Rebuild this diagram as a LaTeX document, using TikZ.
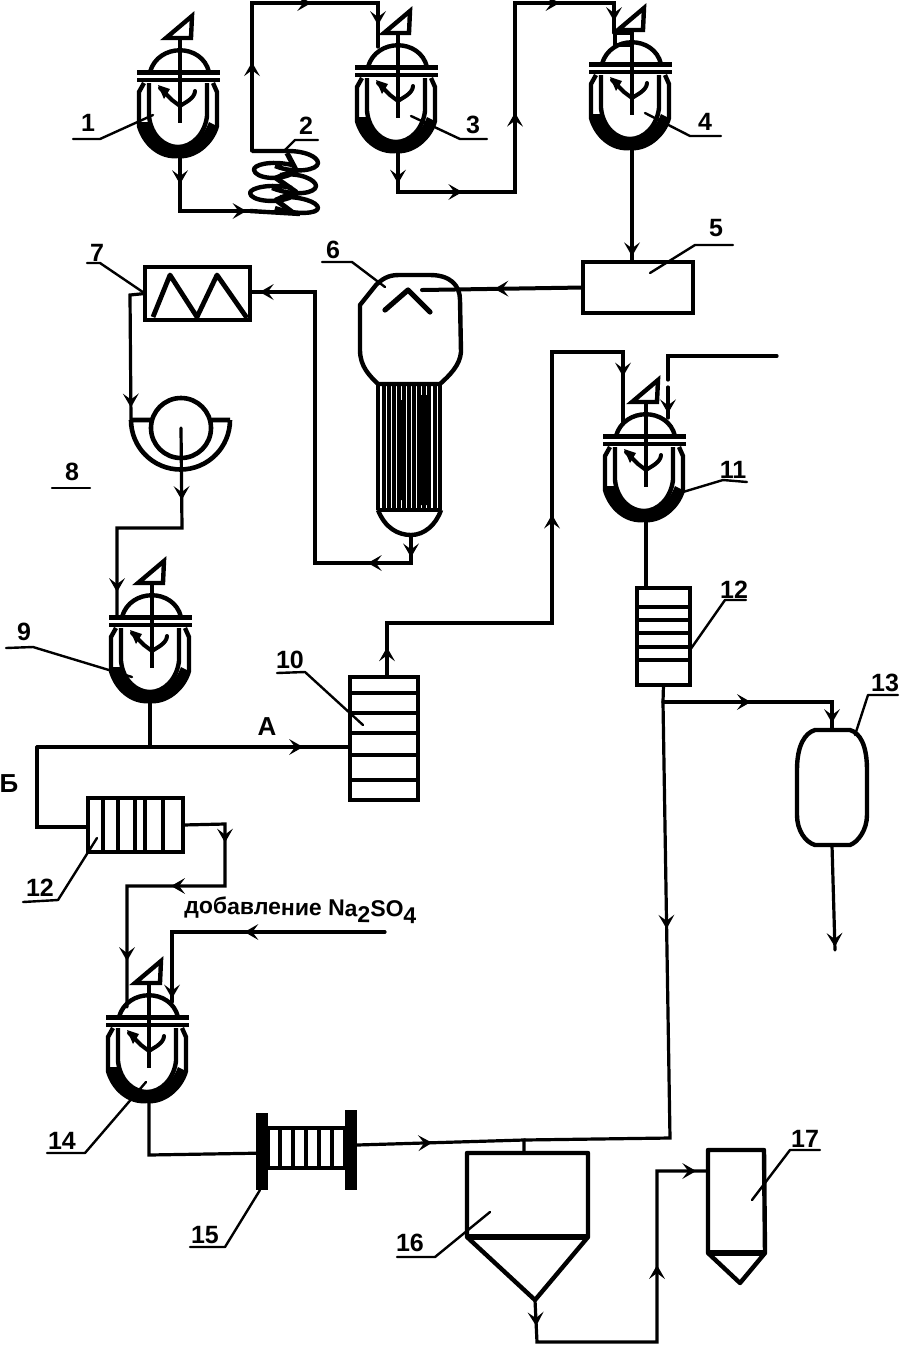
\documentclass[tikz,border=0pt]{standalone}
\usepackage{fontspec}
\setmainfont{Liberation Sans}
\usetikzlibrary{arrows.meta,calc}
\tikzset{
  x=0.5pt,y=-0.5pt,
  flow/.style={line width=1.6pt,line join=miter,line cap=round},
  leader/.style={line width=1.2pt,line cap=round,line join=round},
  heavy/.style={line width=2.2pt,line join=round},
  equip/.style={draw,line width=2.2pt,inner sep=0pt,outer sep=0pt},
  lab/.style={font=\bfseries\fontsize{12.5}{12.5}\selectfont,inner sep=0pt},
  ar/.style={pos=#1,sloped,allow upside down},
  pics/barb/.style={code={\fill (-14,-8) -- (0,0) -- (-14,8) -- (-8,0) -- cycle;}},
  pics/reactor/.style={code={
    \coordinate (-bot) at (0,79);
    \coordinate (-j) at (-41,40);
    \coordinate (-jr) at (37,40);
    \coordinate (-jl) at (37,52);
    \coordinate (-tl) at (-27,39);
    \coordinate (-tr) at (13,45);
    \coordinate (-tb) at (-3,61);
    \draw[line width=2.2pt,line join=miter] (-14,-38) -- (12,-60) -- (11,-38) -- cycle;
    \draw[line width=2.2pt] (0,-38) -- (0,47);
    \draw[line width=2.2pt] (-30,-4) .. controls (-22,-33) and (22,-33) .. (29,-4);
    \draw[line width=2.6pt] (-43,-3.5) -- (40,-3.5);
    \draw[line width=2pt] (-43,4) -- (40,4);
    \draw[line width=2pt,line cap=round,line join=round] (-20,12) -- (-8,24) -- (0,30) -- (8,25) .. controls (12,22) and (15,19) .. (15,15);
    \fill (-22,9) -- (-10,13) -- (-16,23) -- cycle;
    \draw[line width=2.2pt] (-31,7) -- (-31,40) .. controls (-29,60) and (-15,71) .. (-2,71) .. controls (12,71) and (25,58) .. (27,40) -- (27,7);
    \draw[line width=2.2pt,line join=round] (-36,7) -- (-41,16) -- (-41,50) .. controls (-36,68) and (-20,82) .. (-2,80) .. controls (14,82) and (32,68) .. (37,50) -- (37,16) -- (33,7);
    \fill (-41,46) .. controls (-38,66) and (-20,80) .. (-2,80) .. controls (14,80) and (32,66) .. (37,50) -- (29,46) .. controls (24,60) and (12,71) .. (-2,71) .. controls (-15,71) and (-27,60) .. (-31,46) -- cycle;
  }},
}
\begin{document}
\begin{tikzpicture}
\useasboundingbox (0,0) rectangle (904,1346);
% ---------- reactors
\pic (r1) at (180,76) {reactor};
\pic (r3) at (398,71) {reactor};
\pic (r4) at (632,68) {reactor};
\pic (r9) at (152,621) {reactor};
\pic (r11) at (646,440) {reactor};
\pic (r14) at (149,1021) {reactor};
\draw[line width=1.8pt] (613,33) -- (632,33) (615,33) -- (615,44) (613,45) -- (630,45);
% ---------- boxes
\node[equip,minimum width=55pt,minimum height=25.5pt] (b5) at (638,287.5) {};
\node[equip,minimum width=52.5pt,minimum height=26.5pt] (b7) at (197.5,293.5) {};
\node[equip,minimum width=34pt,minimum height=61.5pt] (b10) at (384,738.5) {};
\node[equip,minimum width=26.5pt,minimum height=48.5pt] (b12a) at (663.5,636.5) {};
\node[equip,minimum width=47.5pt,minimum height=27pt] (b12b) at (135.5,825) {};
\node[equip,minimum width=38.5pt,minimum height=20pt] (b15) at (306.5,1148) {};
% box interiors
\draw[line width=2.4pt,line join=round] (153,317) -- (170,275) -- (197,317) -- (217,275) -- (247,318);
\foreach \yy in {693,713,733,755,780} \draw[heavy] (b10.west |- 0,\yy) -- (b10.east |- 0,\yy);
\foreach \yy in {607,620,633,647,660} \draw[heavy] (b12a.west |- 0,\yy) -- (b12a.east |- 0,\yy);
\foreach \xx in {103,118,135,145,163} \draw[line width=1.8pt] (\xx,0 |- b12b.north) -- (\xx,0 |- b12b.south);
\foreach \xx in {280,293,306,319,332} \draw[line width=1.6pt] (\xx,0 |- b15.north) -- (\xx,0 |- b15.south);
\fill (256,1113) rectangle (268,1190);
\fill (345,1110) rectangle (357,1190);
% ---------- coil 2
\coordinate (c2a) at (250,211);
\coordinate (c2b) at (252,151);
\draw[line width=2.2pt,line join=round]
  (252,151) -- (282,151) .. controls (305,150) and (318,157) .. (318,163) .. controls (318,170) and (295,174) .. (275,166)
  (292,165) .. controls (270,160) and (253,165) .. (254,170) .. controls (255,178) and (280,182) .. (295,172)
  (280,175) .. controls (300,172) and (316,180) .. (316,186) .. controls (316,193) and (295,197) .. (272,188)
  (292,188) .. controls (270,183) and (250,188) .. (250,193) .. controls (250,201) and (280,205) .. (295,195)
  (280,197) .. controls (300,196) and (318,202) .. (318,208) .. controls (318,214) and (295,215) .. (275,208)
  (250,211) -- (300,214);
\draw[line width=2.6pt,line join=round] (287,153) -- (296,170) -- (276,178) -- (296,192) -- (276,200) -- (292,212);
% ---------- vessel 6
\coordinate (v6in) at (422,290);
\coordinate (v6out) at (411,535);
\coordinate (v6tag) at (385,287);
\draw[heavy] (360,305) -- (376,285) .. controls (385,276) and (392,275) .. (400,275) -- (430,275) .. controls (450,275) and (460,285) .. (460,300) -- (461,352) .. controls (460,365) and (450,375) .. (440,384) -- (378,384) .. controls (370,376) and (360,367) .. (360,350) -- cycle;
\draw[line width=2.6pt,line cap=round,line join=round] (385,310) -- (408,290) -- (430,312);
\draw[heavy] (378,384) -- (378,510) (440,384) -- (440,510) (378,510) -- (440,510);
\foreach \xx in {384,389,394,399,404,409,414,419,424,429,435} \draw[line width=1.9pt] (\xx,386) -- (\xx,508);
\fill (398,400) rectangle (403,500) (421,395) rectangle (428,505);
\draw[heavy] (378,510) .. controls (385,528) and (398,535) .. (411,535) .. controls (424,535) and (436,525) .. (441,510);
% ---------- filter 8
\coordinate (f8c) at (181,428);
\coordinate (f8in) at (131,420);
\draw[line width=2.3pt] (f8c) circle (30);
\draw[line width=2.3pt] (f8in) -- (152,420) (212,420) -- (230,420) (f8in) arc[start angle=180,end angle=0,radius=49.5];
% ---------- vessels 13, 16, 17
\coordinate (v13in) at (832,730);
\coordinate (v13out) at (832,845);
\coordinate (v13end) at (835,950);
\coordinate (v13tag) at (855,735);
\draw[heavy] (797,770) .. controls (797,745) and (805,733) .. (815,730) -- (850,730) .. controls (860,733) and (867,745) .. (867,770) -- (867,815) .. controls (867,830) and (858,842) .. (850,845) -- (815,845) .. controls (805,842) and (797,830) .. (797,815) -- cycle;
\coordinate (v16in) at (524,1153);
\coordinate (v16out) at (535,1300);
\coordinate (v16tag) at (490,1212);
\draw[heavy] (467,1153) -- (588,1153) -- (588,1237) -- (535,1300) -- (467,1237) -- cycle;
\draw[line width=2.6pt] (467,1237) -- (588,1237);
\coordinate (v17in) at (706,1171);
\coordinate (v17tag) at (752,1200);
\draw[heavy] (708,1150) -- (764,1150) -- (765,1253) -- (740,1283) -- (708,1253) -- cycle;
\draw[line width=2.6pt] (708,1253) -- (765,1253);
% ---------- inlets and junctions
\coordinate (r3in) at (378,47);
\coordinate (r4in) at (614,33);
\coordinate (r9in) at (117,617);
\coordinate (r11in) at (623,422);
\coordinate (r11dash) at (668,380);
\coordinate (r11ex) at (668,418);
\coordinate (r14in) at (127,1007);
\coordinate (r14ex) at (172,1002);
\coordinate (jA) at (150,747);
\coordinate (jB) at (663,702);
\coordinate (jC) at (524,1140);
\coordinate (feed11) at (777,356);
\coordinate (feedNa) at (385,932);
\coordinate (r9tag) at (132,677);
\coordinate (f15tag) at (260,1190);
\coordinate (c2tag) at (285,150);
% ---------- connectors
\draw[flow] (r1-bot) -- (180,211) pic[ar=.52]{barb} -- (c2a) pic[ar=.95]{barb};
\draw[flow] (c2b) -- (252,3) pic[ar=.6]{barb} -- (378,3) pic[ar=.47]{barb} -- (r3in) pic[ar=.5]{barb};
\draw[flow] (r3-bot) -- (398,192) pic[ar=.8]{barb} -- (515,192) pic[ar=.55]{barb} -- (515,3) pic[ar=.42]{barb} -- (614,3) pic[ar=.45]{barb} -- (r4in) pic[ar=.6]{barb};
\draw[flow] (r4-bot) -- (b5.north -| r4-bot) pic[ar=.95]{barb};
\draw[flow,line width=2pt] (b5.west) -- (v6in) pic[ar=.55]{barb};
\draw[flow] (v6out) -- (411,563) pic[ar=.8]{barb} -- (315,563) pic[ar=.45]{barb} -- (315,292) -- (b7.east |- 0,292) pic[ar=.85]{barb};
\draw[flow] (b7.west) -- (130,295) -- (f8in) pic[ar=.9]{barb};
\draw[flow] (f8c) -- (182,528) pic[ar=.72]{barb} -- (117,528) -- (r9in) pic[ar=.72]{barb};
\draw[flow] (r9-bot -| jA) -- (jA);
\draw[flow] (37,747) -- (b10.west |- jA) pic[ar=.85]{barb};
\draw[flow] (37,747) -- (37,827) -- (b12b.west |- 0,827);
\draw[flow] (b10.north -| 387,0) -- (387,623) pic[ar=.55]{barb} -- (552,623) -- (552,352) pic[ar=.4]{barb} -- (623,352) -- (r11in) pic[ar=.35]{barb};
\draw[flow] (feed11) -- (668,356) -- (r11dash);
\draw[flow] (668,387) -- (r11ex) pic[ar=.85]{barb};
\draw[flow] (r11-bot) -- (b12a.north -| r11-bot);
\draw[flow] (b12a.south) -- (jB) -- (670,1138) pic[ar=.52]{barb} -- (jC);
\draw[flow] (jB) -- (832,702) pic[ar=.52]{barb} -- (v13in) pic[ar=.75]{barb};
\draw[flow] (v13out) -- (v13end) pic[ar=.97]{barb};
\draw[flow] (b12b.east) -- (225,824) -- (225,886) pic[ar=.3]{barb} -- (127,886) pic[ar=.55]{barb} -- (r14in) pic[ar=.62]{barb};
\draw[flow] (feedNa) -- (172,932) pic[ar=.66]{barb} -- (r14ex) pic[ar=.95]{barb};
\draw[flow] (r14-bot) -- (149,1155) -- (b15.west |- 0,1153);
\draw[flow] (357,1145) -- (jC) pic[ar=.45]{barb} -- (v16in);
\draw[flow] (v16out) -- (537,1342) pic[ar=.62]{barb} -- (657,1342) -- (657,1171) pic[ar=.45]{barb} -- (v17in) pic[ar=.8]{barb};
% ---------- labels and leaders
\node[lab] (l1) at (88,123) {1};
\node[lab] (l2) at (306,126) {2};
\node[lab] (l3) at (473,125) {3};
\node[lab] (l4) at (705,122) {4};
\node[lab] (l5) at (716,228) {5};
\node[lab] (l6) at (333,250) {6};
\node[lab] (l7) at (97,253) {7};
\node[lab] (l8) at (72,472) {8};
\node[lab] (l9) at (24,632) {9};
\node[lab] (l10) at (290,660) {10};
\node[lab] (l11) at (733,470) {11};
\node[lab] (l12a) at (734,590) {12};
\node[lab] (l13) at (885,683) {13};
\node[lab] (l12b) at (40,888) {12};
\node[lab] (l14) at (62,1141) {14};
\node[lab] (l15) at (205,1235) {15};
\node[lab] (l16) at (410,1243) {16};
\node[lab] (l17) at (805,1139) {17};
\node[lab,font=\bfseries\fontsize{13}{13}\selectfont] (lA) at (267,727) {А};
\node[lab,font=\bfseries\fontsize{13}{13}\selectfont] (lB) at (9,784) {Б};
\node[font=\bfseries\fontsize{11.5}{12}\selectfont,inner sep=0pt,anchor=west,rotate=-1] (na) at (184,908) {добавление Na\raisebox{-3pt}{2}SO\raisebox{-3pt}{4}};
\draw[leader] (73,139) -- (100,139) -- (r1-tl);
\draw[leader] (318,140) -- (295,140) -- (c2tag);
\draw[leader] (487,139) -- (460,139) -- (r3-tr);
\draw[leader] (721,136) -- (690,136) -- (r4-tr);
\draw[leader] (733,245) -- (695,245) -- (650,273);
\draw[leader] (322,262) -- (352,262) -- (v6tag);
\draw[leader] (87,263) -- (100,263) -- (b7.west);
\draw[leader] (52,488) -- (90,488);
\draw[leader] (6,648) -- (33,647) -- (r9tag);
\draw[leader] (277,673) -- (305,672) -- (363,725);
\draw[leader] (747,482) -- (723,480) -- (r11-jl);
\draw[leader] (746,600) -- (725,600) -- (b12a.east |- 0,650);
\draw[leader] (898,695) -- (868,695) -- (v13tag);
\draw[leader] (23,902) -- (58,900) -- (97,838);
\draw[leader] (47,1153) -- (85,1153) -- (r14-tb);
\draw[leader] (190,1247) -- (225,1247) -- (f15tag);
\draw[leader] (397,1257) -- (435,1257) -- (v16tag);
\draw[leader] (820,1150) -- (790,1150) -- (v17tag);
\end{tikzpicture}
\end{document}
